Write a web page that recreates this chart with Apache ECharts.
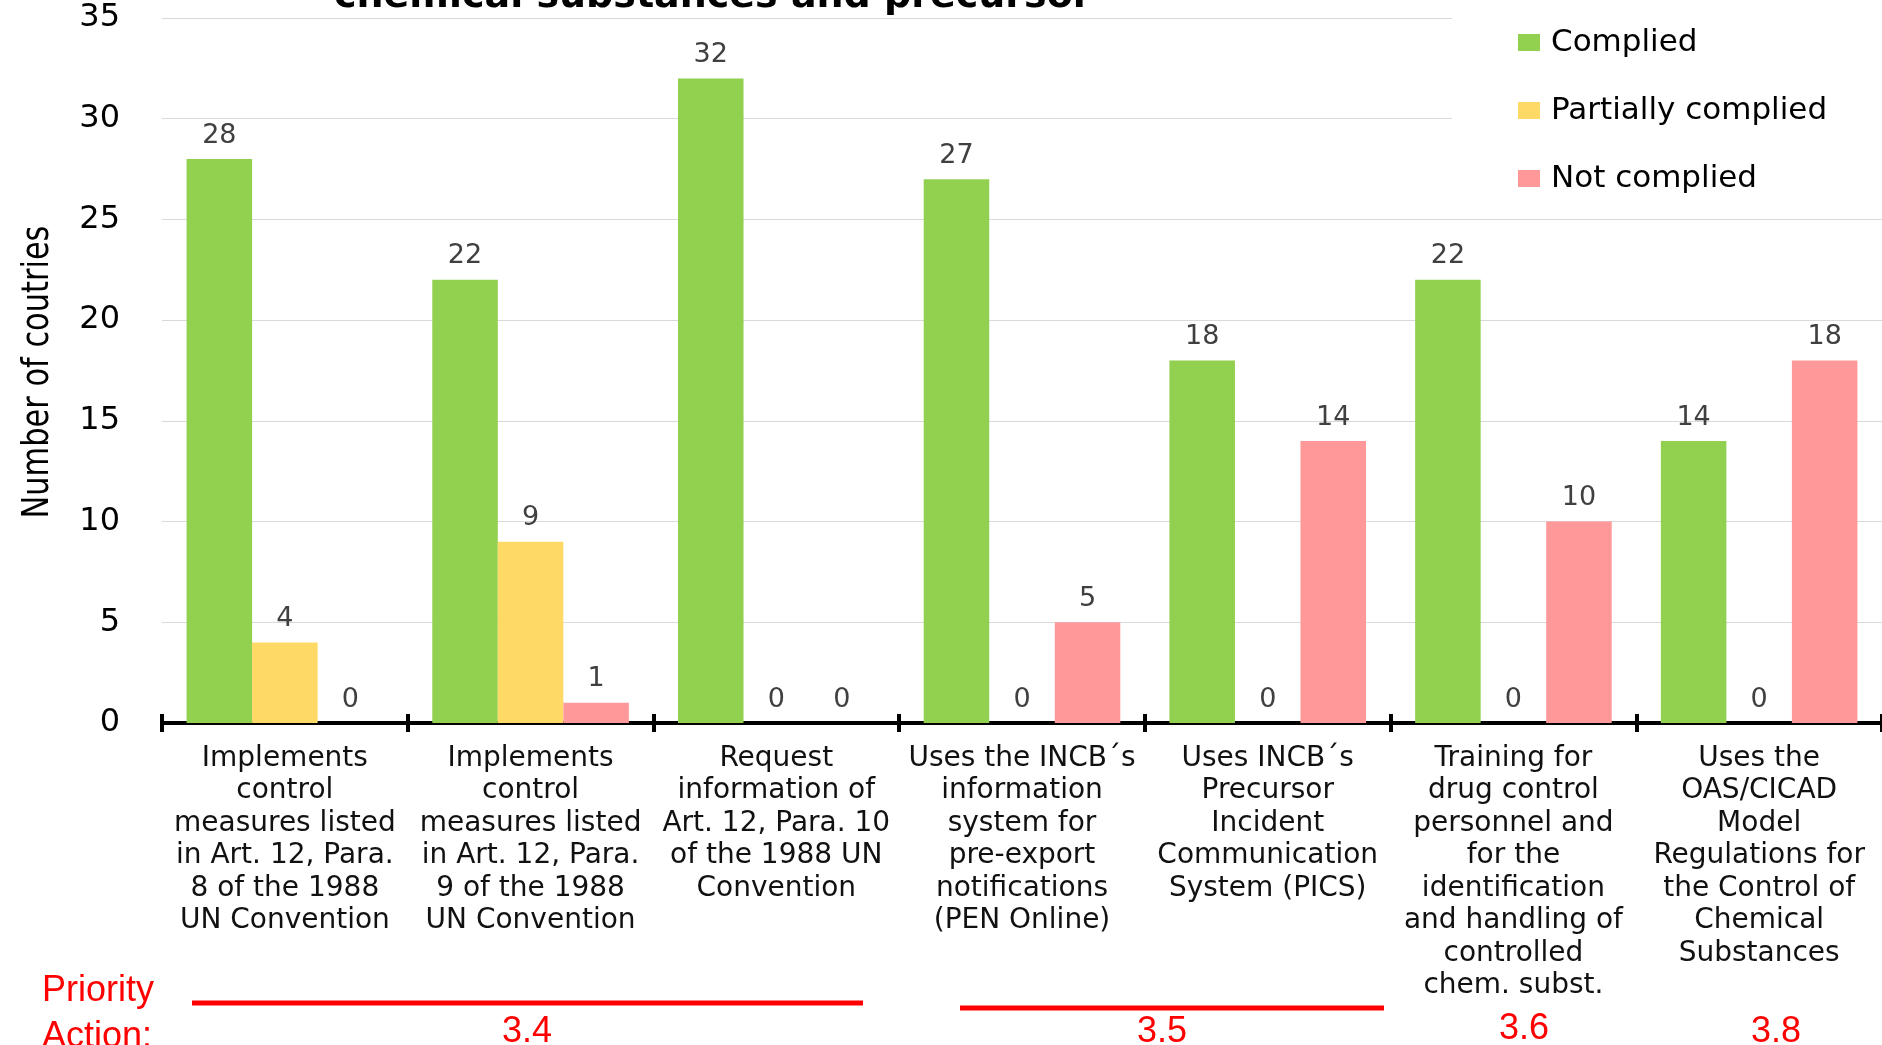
<!DOCTYPE html>
<html>
<head>
<meta charset="utf-8">
<script src="https://cdn.jsdelivr.net/npm/echarts@6/dist/echarts.min.js"></script>
<style>
html,body{margin:0;padding:0;background:#fff;}
#chart{width:1882px;height:1045px;}
</style>
</head>
<body>
<div id="chart"></div>
<script>
const categories = [
  'Implements\ncontrol\nmeasures listed\nin Art. 12, Para.\n8 of the 1988\nUN Convention',
  'Implements\ncontrol\nmeasures listed\nin Art. 12, Para.\n9 of the 1988\nUN Convention',
  'Request\ninformation of\nArt. 12, Para. 10\nof the 1988 UN\nConvention',
  'Uses the INCB\u00b4s\ninformation\nsystem for\npre-export\nnotifications\n(PEN Online)',
  'Uses INCB\u00b4s\nPrecursor\nIncident\nCommunication\nSystem (PICS)',
  'Training for\ndrug control\npersonnel and\nfor the\nidentification\nand handling of\ncontrolled\nchem. subst.',
  'Uses the\nOAS/CICAD\nModel\nRegulations for\nthe Control of\nChemical\nSubstances'
];
const seriesNames = ['Complied', 'Partially complied', 'Not complied'];
const complied = [28, 22, 32, 27, 18, 22, 14];
const partiallyComplied = [4, 9, 0, 0, 0, 0, 0];
const notComplied = [0, 1, 0, 5, 14, 10, 18];
const yTicks = { min: 0, max: 35, interval: 5 };
const titleText = 'chemical substances and precursor';
const yAxisTitle = 'Number of coutries';
const priorityCaption = ['Priority', 'Action:'];
const priorityLabels = ['3.4', '3.5', '3.6', '3.8'];

const colors = ['#92D050', '#FFD966', '#FF9999'];
const F = "'DejaVu Sans', Verdana, sans-serif";
const RED = '#FF0000';
const PF = "36px 'Liberation Sans', Arial, sans-serif";

const chart = echarts.init(document.getElementById('chart'));

function barSeries(name, data, color) {
  return {
    name: name,
    type: 'bar',
    data: data,
    barGap: '0%',
    barCategoryGap: '20%',
    itemStyle: { color: color },
    label: {
      show: true,
      position: 'top',
      distance: 10,
      color: '#404040',
      fontFamily: F,
      fontSize: 27
    }
  };
}

const option = {
  backgroundColor: '#ffffff',
  animation: false,
  grid: { left: 162, right: 0, top: 18, bottom: 322, containLabel: false, outerBoundsMode: 'none' },
  legend: {
    orient: 'vertical',
    left: 1452,
    top: 0,
    padding: [27, 200, 12, 66],
    backgroundColor: '#ffffff',
    itemWidth: 22,
    itemHeight: 17,
    itemGap: 37,
    icon: 'rect',
    data: seriesNames,
    textStyle: { fontFamily: F, fontSize: 31, color: '#000', lineHeight: 31, padding: [0, 0, 0, 6] }
  },
  xAxis: [
    {
      type: 'category',
      data: categories,
      position: 'bottom',
      axisLine: { show: true, lineStyle: { color: '#000', width: 4 } },
      axisTick: { show: true, length: 9, lineStyle: { color: '#000', width: 4 } },
      axisLabel: {
        interval: 0,
        margin: 19,
        fontFamily: F,
        fontSize: 28,
        lineHeight: 32.5,
        color: '#111',
        align: 'center'
      },
      splitLine: { show: false }
    },
    {
      type: 'category',
      data: categories,
      position: 'bottom',
      axisLine: { show: false },
      axisTick: { show: true, inside: true, length: 9, lineStyle: { color: '#000', width: 4 } },
      axisLabel: { show: false },
      splitLine: { show: false }
    }
  ],
  yAxis: {
    type: 'value',
    min: yTicks.min,
    max: yTicks.max,
    interval: yTicks.interval,
    axisLine: { show: false },
    axisTick: { show: false },
    axisLabel: { fontFamily: F, fontSize: 32, color: '#000', margin: 42 },
    splitLine: { show: true, lineStyle: { color: '#d9d9d9', width: 1 } }
  },
  series: [
    barSeries(seriesNames[0], complied, colors[0]),
    barSeries(seriesNames[1], partiallyComplied, colors[1]),
    barSeries(seriesNames[2], notComplied, colors[2])
  ],
  graphic: [
    {
      type: 'text', left: 334, top: -22, z: 10,
      style: { text: titleText, font: "bold 38px " + F, fill: '#000' }
    },
    {
      type: 'text', x: 38, y: 372, rotation: Math.PI / 2, scaleX: 0.89, z: 10,
      style: { text: yAxisTitle, font: "38px 'DejaVu Sans Condensed', 'DejaVu Sans', sans-serif", fill: '#000', textAlign: 'center', textVerticalAlign: 'middle' }
    },
    {
      type: 'text', left: 42, top: 968, z: 10,
      style: { text: priorityCaption.join('\n'), font: PF, fill: RED, lineHeight: 46 }
    },
    { type: 'line', z: 10, shape: { x1: 192, y1: 1003, x2: 863, y2: 1003 }, style: { stroke: RED, lineWidth: 5 } },
    { type: 'line', z: 10, shape: { x1: 960, y1: 1008, x2: 1384, y2: 1008 }, style: { stroke: RED, lineWidth: 5 } },
    { type: 'text', z: 10, x: 527, y: 1032, style: { text: priorityLabels[0], font: PF, fill: RED, textAlign: 'center', textVerticalAlign: 'middle' } },
    { type: 'text', z: 10, x: 1162, y: 1032, style: { text: priorityLabels[1], font: PF, fill: RED, textAlign: 'center', textVerticalAlign: 'middle' } },
    { type: 'text', z: 10, x: 1524, y: 1029, style: { text: priorityLabels[2], font: PF, fill: RED, textAlign: 'center', textVerticalAlign: 'middle' } },
    { type: 'text', z: 10, x: 1776, y: 1032, style: { text: priorityLabels[3], font: PF, fill: RED, textAlign: 'center', textVerticalAlign: 'middle' } }
  ]
};
chart.setOption(option);
</script>
</body>
</html>
